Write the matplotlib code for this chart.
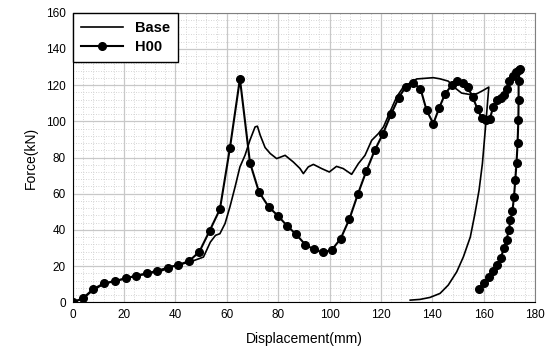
import numpy as np
import matplotlib.pyplot as plt
from matplotlib.ticker import MultipleLocator

# --- values ---
base_x = [0, 4, 8, 12, 16, 20, 25, 30, 35, 38.0, 45.7, 50.9, 53.6, 55.6, 57.3, 59.3, 61.2,
          63.2, 65.1, 67.1, 69.0, 71.0, 71.9, 73.0, 74.9, 76.9, 79.4, 82.7, 85.9, 88.5,
          89.8, 91.7, 93.7, 96.9, 99.9, 102.7, 105.3, 108.6, 111.2, 113.8, 116.4, 119.0,
          121.0, 123.5, 126.1, 128.7, 131.3, 133.9, 140.4, 142.9, 146.2, 148.8, 151.4,
          154.7, 157.3, 159.7, 162.0, 161.0, 160.5, 159.5, 158.2, 156.6, 154.8, 152.1,
          149.5, 146.2, 143.0, 139.1, 135.2, 131.4]
base_y = [0, 2.0, 6.8, 10.0, 11.6, 13.0, 14.6, 16.0, 17.6, 19.6, 22.3, 25.0, 33.3, 37.0,
          37.9, 43.5, 52.7, 63.7, 74.8, 81.3, 89.6, 96.9, 97.3, 92.3, 85.5, 82.2, 79.4,
          81.2, 77.5, 73.9, 71.1, 74.8, 76.2, 73.9, 72.0, 75.1, 73.9, 70.7, 76.6, 81.2,
          89.5, 93.2, 96.9, 105.1, 113.4, 118.9, 121.1, 123.4, 124.1, 123.5, 122.2, 118.5,
          115.6, 114.8, 115.2, 117.0, 118.9, 101.6, 93.2, 76.6, 61.9, 49.0, 36.1, 25.1,
          16.8, 9.5, 4.9, 2.7, 1.6, 1.2]

h00_x = [0, 3.9, 8.0, 12.2, 16.5, 20.6, 24.6, 28.8, 32.9, 37.0, 41.1, 45.3, 49.3, 53.3,
         57.3, 61.2, 65.1, 69.0, 72.5, 76.3, 79.9, 83.5, 87.0, 90.6, 93.9, 97.3, 100.8,
         104.3, 107.7, 111.1, 114.3, 117.6, 120.8, 123.9, 126.9, 129.7, 132.6, 135.4,
         137.8, 140.4, 142.7, 145.0, 147.5, 149.7, 151.8, 153.8, 155.7, 157.6, 159.2,
         160.9, 162.4, 163.7, 165.3, 166.8, 168.1, 169.0, 170.0, 171.3, 172.6, 173.6,
         174.1, 173.6, 173.6, 173.5, 173.2, 172.8, 172.3, 171.8, 171.2, 170.4, 169.8,
         168.9, 167.9, 166.6, 165.3, 163.8, 162.1, 160.1, 158.2]
h00_y = [0, 2.2, 7.3, 10.5, 11.8, 13.2, 14.7, 16.0, 17.4, 19.1, 20.6, 22.8, 27.9, 39.5,
         51.4, 85.2, 123.5, 77.2, 61.0, 52.7, 47.8, 42.2, 37.5, 31.8, 29.2, 27.6, 28.8,
         35.1, 45.9, 60.1, 72.5, 84.0, 93.2, 103.8, 113.0, 119.2, 121.1, 118.0, 106.0,
         98.7, 107.5, 115.2, 119.8, 122.2, 121.1, 118.9, 113.4, 106.8, 101.9, 100.8, 101.4,
         107.8, 111.9, 113.0, 114.3, 118.0, 122.5, 125.3, 127.1, 128.4, 129.0, 122.5,
         111.5, 100.5, 88.0, 77.2, 67.4, 58.2, 50.5, 45.4, 39.8, 34.7, 29.8, 24.3, 20.6,
         17.4, 14.1, 10.8, 7.2]

plt.rcParams['font.family'] = ['Liberation Sans', 'DejaVu Sans']

fig = plt.figure(figsize=(5.56, 3.53), dpi=100)
ax = fig.add_axes([0.1308, 0.1436, 0.8315, 0.8204])

ax.plot(base_x, base_y, color="black", lw=1.2, label="Base")
ax.plot(h00_x, h00_y, color="black", lw=1.5, marker="o", ms=5.5, label="H00")

ax.set_xlim(0, 180); ax.set_ylim(0, 160)
ax.xaxis.set_major_locator(MultipleLocator(20))
ax.yaxis.set_major_locator(MultipleLocator(20))
ax.xaxis.set_minor_locator(MultipleLocator(4))
ax.yaxis.set_minor_locator(MultipleLocator(4))
ax.grid(which="major", color="#c8c8c8", lw=0.9)
ax.grid(which="minor", color="#c8c8c8", lw=0.6, ls=(0, (1, 2)))
ax.set_axisbelow(True)
ax.tick_params(which="both", length=0, labelsize=8.5, pad=5)
for s in ["top", "right"]:
    ax.spines[s].set_color("#808080")

ax.set_xlabel("Displacement(mm)", fontsize=10, labelpad=8)
ax.set_ylabel("Force(kN)", fontsize=10, labelpad=6)

leg = ax.legend(loc="upper left", fancybox=False, edgecolor="black", framealpha=1,
                prop={"weight": "bold", "size": 10.5}, handlelength=2.9,
                borderaxespad=0.0, borderpad=0.55, labelspacing=0.35)
leg.get_frame().set_linewidth(1.0)

fig.savefig("out.png", dpi=100)
